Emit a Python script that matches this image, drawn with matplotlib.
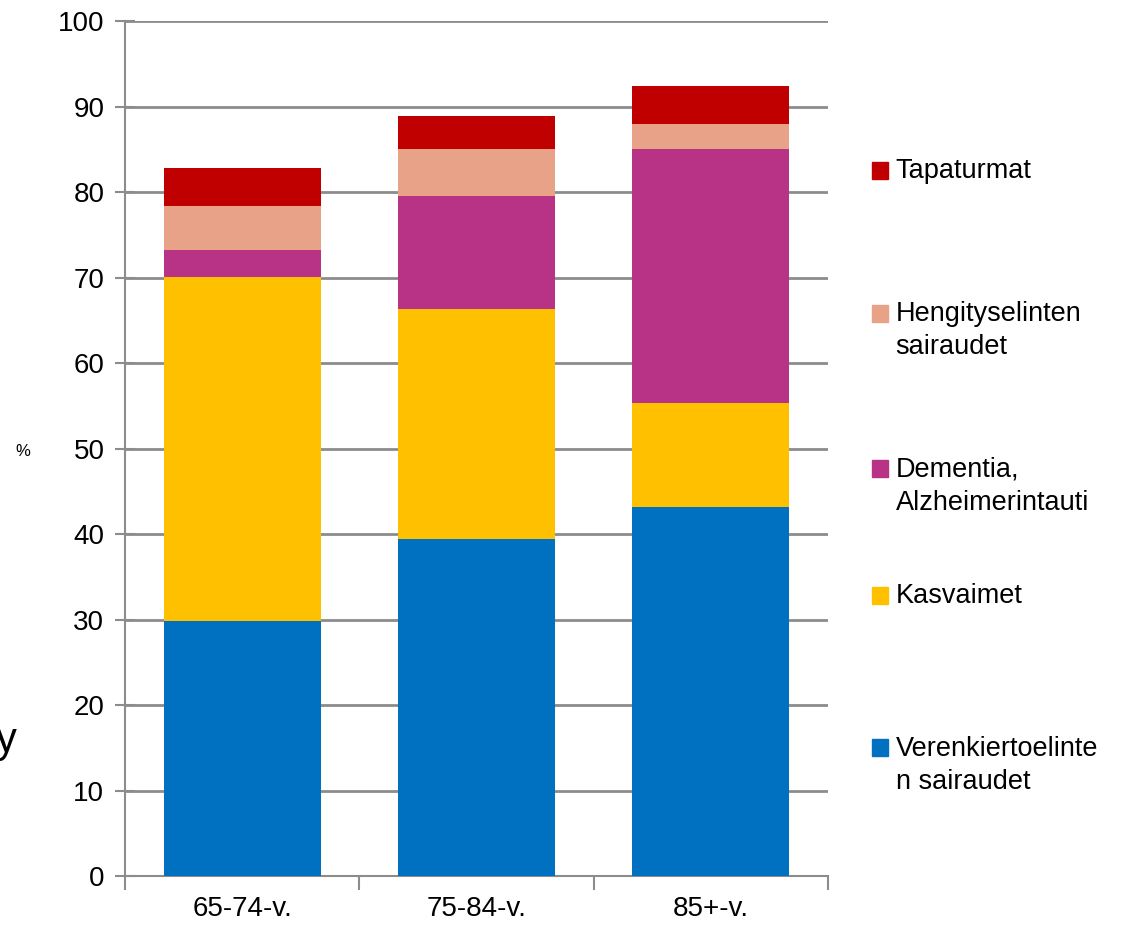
import numpy as np
import matplotlib
matplotlib.use("Agg")
import matplotlib.pyplot as plt
from matplotlib.patches import Rectangle

categories = ["65-74-v.", "75-84-v.", "85+-v."]
series_names = ["Verenkiertoelinte\nn sairaudet", "Kasvaimet", "Dementia,\nAlzheimerintauti",
                "Hengityselinten\nsairaudet", "Tapaturmat"]
verenkierto = [29.8, 39.4, 43.2]
kasvaimet = [40.3, 27.0, 12.2]
dementia = [3.2, 13.2, 29.7]
hengitys = [5.1, 5.5, 2.9]
tapaturmat = [4.4, 3.8, 4.4]
colors = ["#0070C0", "#FFC000", "#B83286", "#E8A287", "#C00000"]

values = [verenkierto, kasvaimet, dementia, hengitys, tapaturmat]

tickfont = ["Liberation Sans", "DejaVu Sans"]
plt.rcParams['font.family'] = ["Liberation Sans", "DejaVu Sans"]

fig = plt.figure(figsize=(11.28, 9.30), dpi=100)
ax = fig.add_axes([0.111, 0.058, 0.623, 0.919])

x = np.arange(len(categories))
bottom = np.zeros(len(categories))
for vals, col in zip(values, colors):
    ax.bar(x, vals, width=0.67, bottom=bottom, color=col, zorder=3)
    bottom += np.array(vals)

ax.set_ylim(0, 100)
ax.set_xlim(-0.5, 2.5)
ax.set_yticks(range(0, 101, 10))
ax.yaxis.grid(True, color="#8c8c8c", linewidth=2, zorder=0)
ax.set_xticks([-0.5, 0.5, 1.5, 2.5])
ax.set_xticklabels([])
ax.set_xticks(x, minor=True)
ax.set_xticklabels(categories, minor=True, fontsize=20, family=tickfont)
ax.tick_params(axis="x", which="minor", length=0, pad=14)
ax.tick_params(axis="x", which="major", length=10, width=1.5, color="#8c8c8c")
ax.tick_params(axis="y", direction="inout", length=14, width=1.5, color="#8c8c8c", pad=8)
for lab in ax.get_yticklabels():
    lab.set_fontsize(20)
    lab.set_family(tickfont)
for s in ["top", "right"]:
    ax.spines[s].set_visible(False)
for s in ["left", "bottom"]:
    ax.spines[s].set_color("#8c8c8c")
    ax.spines[s].set_linewidth(1.5)

fig.text(0.014, 0.515, "%", fontsize=12, va="center", ha="left")
fig.text(-0.004, 0.203, "y", fontsize=30, va="center", ha="left")

# legend, top entry first
leg_y = [0.817, 0.663, 0.496, 0.360, 0.196]
for name, col, yy in zip(series_names[::-1], colors[::-1], leg_y):
    fig.patches.append(Rectangle((0.773, yy - 0.009), 0.0145, 0.018, color=col,
                                 transform=fig.transFigure, figure=fig))
    fig.text(0.794, yy + 0.013, name, fontsize=19.5, va="top", ha="left", linespacing=1.35)

fig.savefig("out.png", dpi=100)
